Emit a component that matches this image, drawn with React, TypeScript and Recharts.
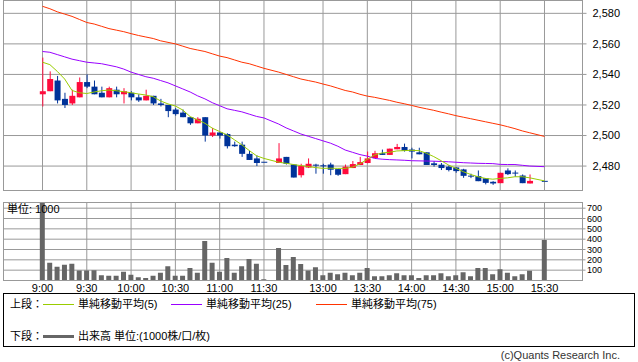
import React from 'react';
import { ComposedChart, Bar, Line, XAxis, YAxis, CartesianGrid } from 'recharts';

// 5-minute bars (start time)
const times = [
  '9:00', '9:05', '9:10', '9:15', '9:20', '9:25', '9:30', '9:35', '9:40', '9:45',
  '9:50', '9:55', '10:00', '10:05', '10:10', '10:15', '10:20', '10:25', '10:30', '10:35',
  '10:40', '10:45', '10:50', '10:55', '11:00', '11:05', '11:10', '11:15', '11:20', '11:25',
  '11:30',
  '12:30', '12:35', '12:40', '12:45', '12:50', '12:55', '13:00', '13:05', '13:10', '13:15',
  '13:20', '13:25', '13:30', '13:35', '13:40', '13:45', '13:50', '13:55', '14:00', '14:05',
  '14:10', '14:15', '14:20', '14:25', '14:30', '14:35', '14:40', '14:45', '14:50', '14:55',
  '15:00', '15:05', '15:10', '15:15', '15:20',
  '15:30',
];

const opens = [
  2527, 2529, 2536, 2524, 2521, 2525, 2535, 2532, 2528, 2525,
  2530, 2527, 2528, 2525, 2523, 2526, 2521, 2520, 2517, 2515,
  2512, 2508, 2512, 2500, 2502, 2501, 2494, 2494, 2488, 2485,
  2482.5,
  2482, 2486, 2481, 2474, 2479, 2480.6, 2480.5, 2481, 2478, 2474.7,
  2478.7, 2480.7, 2482, 2485.3, 2488.4, 2487.3, 2491, 2492.5, 2490.8, 2489,
  2489, 2481.8, 2480.9, 2479.6, 2479.1, 2477.8, 2473.4, 2473.4, 2472, 2469.7,
  2468.8, 2477.1, 2475.4, 2473.8, 2468.6,
  2470,
];
const highs = [
  2551, 2542, 2539, 2528, 2530, 2538, 2540, 2536, 2532, 2532,
  2532, 2531, 2529, 2527, 2530, 2526, 2524, 2520, 2518, 2517,
  2512, 2512, 2512, 2505, 2502, 2501.5, 2496, 2496, 2490, 2487,
  2482.5,
  2495, 2486, 2481, 2481.5, 2485, 2481.5, 2481.5, 2482.2, 2478, 2481,
  2483.3, 2486, 2489.5, 2490, 2490.8, 2491.4, 2494.5, 2494.7, 2492, 2492,
  2489, 2483.3, 2482, 2480.4, 2479.1, 2478.2, 2475, 2477.1, 2472, 2470.1,
  2475.6, 2478.5, 2477.1, 2474.5, 2474.5,
  2470,
];
const lows = [
  2519, 2529, 2521, 2518, 2520, 2525, 2531, 2527, 2525, 2525,
  2525, 2521, 2523, 2522, 2523, 2520, 2519, 2512, 2513, 2512,
  2507, 2508, 2496, 2499, 2498, 2491.5, 2492.6, 2486, 2484, 2480,
  2482.5,
  2482, 2481, 2472.5, 2472.5, 2478.7, 2475, 2475, 2474, 2473.6, 2474.7,
  2478.7, 2480.7, 2481.8, 2485.3, 2487.3, 2487.3, 2491, 2489.5, 2485, 2487.7,
  2480.7, 2479.6, 2477.4, 2476.5, 2475.6, 2472.3, 2472.1, 2470.1, 2468, 2467.7,
  2468.8, 2474.1, 2473, 2468.8, 2468.6,
  2470,
];
const closes = [
  2529, 2537, 2523, 2520, 2526, 2535, 2532, 2527, 2525, 2531,
  2527, 2529, 2525, 2523, 2526, 2521, 2520, 2516, 2514, 2512,
  2508, 2511, 2500, 2502, 2500, 2493, 2493, 2488, 2484, 2482,
  2482.5,
  2485, 2481.5, 2472.5, 2480, 2481.5, 2480, 2479.8, 2477.6, 2474.3, 2479.6,
  2481.3, 2482.6, 2485, 2488.4, 2487.3, 2491.4, 2492.5, 2490.1, 2489.5, 2487.7,
  2480.7, 2480.7, 2478.7, 2477.4, 2476.7, 2473.6, 2473.2, 2470.1, 2469, 2468.6,
  2475.6, 2474.7, 2474.9, 2468.8, 2470.3,
  2470,
];
const ma5 = [
  2548, 2546.4, 2542, 2537, 2529.5, 2528, 2527.5, 2528.5, 2529.3, 2529.8,
  2529.3, 2528.7, 2528, 2527.2, 2526.5, 2525.4, 2522.6, 2520.7, 2519.3, 2516.7,
  2512.4, 2510.2, 2508, 2504.8, 2502.6, 2500.4, 2497.2, 2493.9, 2490.2, 2486.7,
  2485,
  2482.5, 2481.8, 2481, 2480.3, 2479.7, 2479, 2478.5, 2478.6, 2478.5, 2478.5,
  2479.3, 2481.5, 2484.4, 2487.3, 2488.6, 2489, 2489.9, 2490.1, 2490.3, 2490.1,
  2488.4, 2486.2, 2483.5, 2480.7, 2478.5, 2476.3, 2474.5, 2473, 2471.9, 2471.4,
  2471.9, 2472.3, 2473, 2473, 2472.3,
  2470.3,
];
const ma25 = [
  2555, 2554.5, 2553, 2551.5, 2550, 2549, 2548, 2547.5, 2547, 2546,
  2545, 2543.5, 2541.5, 2540, 2538.5, 2537.5, 2536, 2534.5, 2532.5, 2530.5,
  2528.5, 2526, 2524, 2521.5, 2519.5, 2517.5, 2516.5, 2515.5, 2514, 2512.5,
  2511.5,
  2507.5, 2505, 2503, 2501, 2499.5, 2498, 2496.5, 2495, 2493, 2490.5,
  2489, 2487.5, 2486.5, 2485, 2484.5, 2484.2, 2484, 2483.8, 2483.5, 2483.4,
  2483.3, 2483.2, 2483, 2482.8, 2482.5, 2482.2, 2482, 2481.8, 2481.7, 2481.6,
  2481.1, 2481, 2481, 2480.5, 2480,
  2479.6,
];
const ma75 = [
  2584.6, 2583, 2581, 2579.5, 2578, 2576, 2574, 2573, 2571.5, 2570,
  2569, 2568, 2566.7, 2565.5, 2564.5, 2563.5, 2562, 2561, 2560, 2558.5,
  2557, 2556, 2555, 2553.5, 2552, 2551, 2549.5, 2548, 2547, 2545.5,
  2544,
  2541.5, 2540, 2538.5, 2537, 2536, 2535, 2533.7, 2532.5, 2531, 2529.5,
  2528.5, 2527, 2525.8, 2525, 2524, 2523, 2521.8, 2520.8, 2519.7, 2518.5,
  2517.5, 2516.5, 2515.3, 2514.2, 2513, 2512, 2511, 2510, 2509, 2508,
  2507, 2505.8, 2504.5, 2503, 2501.8,
  2499.4,
];
const volumes = [
  780, 171, 133, 152, 162, 97, 97, 100, 52, 45,
  45, 84, 55, 32, 23, 45, 74, 139, 45, 45,
  120, 74, 382, 171, 84, 217, 74, 139, 207, 162,
  13,
  314, 149, 227, 159, 97, 129, 52, 74, 61, 74,
  52, 74, 120, 42, 42, 52, 71, 52, 52, 23,
  52, 52, 71, 42, 52, 81, 42, 120, 120, 61,
  110, 74, 42, 61, 94,
  392,
];

const tickLabels = ['9:00', '9:30', '10:00', '10:30', '11:00', '11:30', '13:00', '13:30', '14:00', '14:30', '15:00', '15:30'];
const priceTicks = [2480, 2500, 2520, 2540, 2560, 2580];
const volTicks = [100, 200, 300, 400, 500, 600, 700];

// session-aware slot: morning 9:00-11:30, one empty slot for lunch, afternoon from 12:30
const toSlot = (t: string) => {
  const [h, m] = t.split(':').map(Number);
  const min = h * 60 + m;
  return min <= 690 ? (min - 540) / 5 : 32 + (min - 750) / 5;
};

const data = times.map((t, i) => ({
  slot: toSlot(t),
  time: t,
  range: [lows[i], highs[i]],
  open: opens[i],
  high: highs[i],
  low: lows[i],
  close: closes[i],
  ma5: ma5[i],
  ma25: ma25[i],
  ma75: ma75[i],
  vol: volumes[i],
}));

const tickSlots = tickLabels.map(toSlot);
const labelOf: Record<number, string> = {};
tickSlots.forEach((s, i) => (labelOf[s] = tickLabels[i]));

const RED = '#ff0a3c';
const BLUE = '#003399';
const GRID = '#999999';
const FONT = '"Liberation Sans", Arial, "Noto Sans CJK JP", sans-serif';
const X_DOMAIN: [number, number] = [-5.283, 73.148];

const Candle = (props: any) => {
  const { x, y, width, height, payload } = props;
  const { open, close, high, low } = payload;
  const cx = x + width / 2;
  const top = Math.min(y, y + height);
  const span = Math.abs(height);
  const k = high > low ? span / (high - low) : 0;
  const py = (v: number) => top + (high - v) * k;
  const color = close > open ? RED : BLUE;
  const bTop = py(Math.max(open, close));
  const bBot = py(Math.min(open, close));
  return (
    <g>
      {span > 0 && <line x1={cx} x2={cx} y1={top} y2={top + span} stroke={color} strokeWidth={1} />}
      <rect x={cx - 3} y={bTop - (bBot - bTop < 1 ? 0.5 : 0)} width={6} height={Math.max(bBot - bTop, 1)} fill={color} />
    </g>
  );
};

const legendRow1 = [
  { label: '単純移動平均(5)', color: '#99cc00', lx: 43, tx: 78 },
  { label: '単純移動平均(25)', color: '#9900ff', lx: 171, tx: 206 },
  { label: '単純移動平均(75)', color: '#ff3300', lx: 316, tx: 351 },
];

const txt: React.CSSProperties = {
  position: 'absolute',
  fontFamily: FONT,
  fontSize: 11,
  lineHeight: '12px',
  color: '#000',
  whiteSpace: 'nowrap',
};

export default function App() {
  return (
    <div style={{ position: 'absolute', left: 0, top: 0, width: 638, height: 362, background: '#fff', overflow: 'hidden' }}>
      {/* upper: price */}
      <div style={{ position: 'absolute', left: 0, top: 0 }}>
        <ComposedChart width={638} height={191} data={data} margin={{ top: 0.5, right: 0, bottom: 0.5, left: 3.5 }}>
          <CartesianGrid stroke={GRID} strokeWidth={1} />
          <XAxis dataKey="slot" type="number" domain={X_DOMAIN} ticks={tickSlots} allowDataOverflow hide />
          <YAxis
            orientation="right"
            type="number"
            domain={[2464, 2588.4]}
            ticks={priceTicks}
            interval={0}
            allowDataOverflow
            width={55.5}
            axisLine={false}
            tickSize={4}
            tickMargin={6}
            tickLine={{ stroke: GRID }}
            tick={{ fill: '#000', fontSize: 11, fontFamily: FONT }}
            tickFormatter={(v: number) => v.toLocaleString('en-US')}
          />
          <Bar dataKey="range" barSize={6} shape={<Candle />} isAnimationActive={false} />
          <Line dataKey="ma75" type="linear" stroke="#ff3300" strokeWidth={1} dot={false} isAnimationActive={false} />
          <Line dataKey="ma25" type="linear" stroke="#9900ff" strokeWidth={1} dot={false} isAnimationActive={false} />
          <Line dataKey="ma5" type="linear" stroke="#99cc00" strokeWidth={1} dot={false} isAnimationActive={false} />
        </ComposedChart>
      </div>
      <div style={{ position: 'absolute', left: 3, top: 0, width: 580, height: 191, border: `1px solid ${GRID}`, boxSizing: 'border-box' }} />

      {/* lower: volume */}
      <div style={{ position: 'absolute', left: 0, top: 202 }}>
        <ComposedChart width={638} height={101} data={data} margin={{ top: 0.5, right: 0, bottom: 0.5, left: 3.5 }}>
          <CartesianGrid stroke={GRID} strokeWidth={1} />
          <XAxis
            dataKey="slot"
            type="number"
            domain={X_DOMAIN}
            ticks={tickSlots}
            interval={0}
            allowDataOverflow
            height={22}
            axisLine={false}
            tickLine={false}
            tickSize={0}
            tickMargin={4}
            tick={{ fill: '#000', fontSize: 11, fontFamily: FONT }}
            tickFormatter={(v: number) => labelOf[v] ?? ''}
          />
          <YAxis
            orientation="right"
            type="number"
            domain={[0, 755]}
            ticks={volTicks}
            interval={0}
            allowDataOverflow
            width={55.5}
            axisLine={false}
            tickSize={3}
            tickMargin={1.5}
            tickLine={{ stroke: GRID }}
            tick={{ fill: '#000', fontSize: 9, fontFamily: FONT }}
          />
          <Bar dataKey="vol" barSize={5} fill="#666666" isAnimationActive={false} />
        </ComposedChart>
      </div>
      <div style={{ position: 'absolute', left: 3, top: 202, width: 580, height: 79, border: `1px solid ${GRID}`, boxSizing: 'border-box' }} />
      <div style={{ ...txt, left: 7, top: 203 }}>単位: 1000</div>

      {/* legend */}
      <div style={{ position: 'absolute', left: 3, top: 293, width: 632, height: 54, border: '1px solid #000', boxSizing: 'border-box' }} />
      <div style={{ ...txt, left: 10, top: 298 }}>上段：</div>
      {legendRow1.map((it) => (
        <React.Fragment key={it.label}>
          <div style={{ position: 'absolute', left: it.lx, top: 304, width: 31, height: 1, background: it.color }} />
          <div style={{ ...txt, left: it.tx, top: 298 }}>{it.label}</div>
        </React.Fragment>
      ))}
      <div style={{ ...txt, left: 10, top: 330 }}>下段：</div>
      <div style={{ position: 'absolute', left: 43, top: 335, width: 31, height: 3, background: '#666666' }} />
      <div style={{ ...txt, left: 78, top: 330 }}>出来高 単位:(1000株/口/枚)</div>

      <div style={{ ...txt, right: 18, top: 350, lineHeight: '11px', color: '#333' }}>(c)Quants Research Inc.</div>
    </div>
  );
}
